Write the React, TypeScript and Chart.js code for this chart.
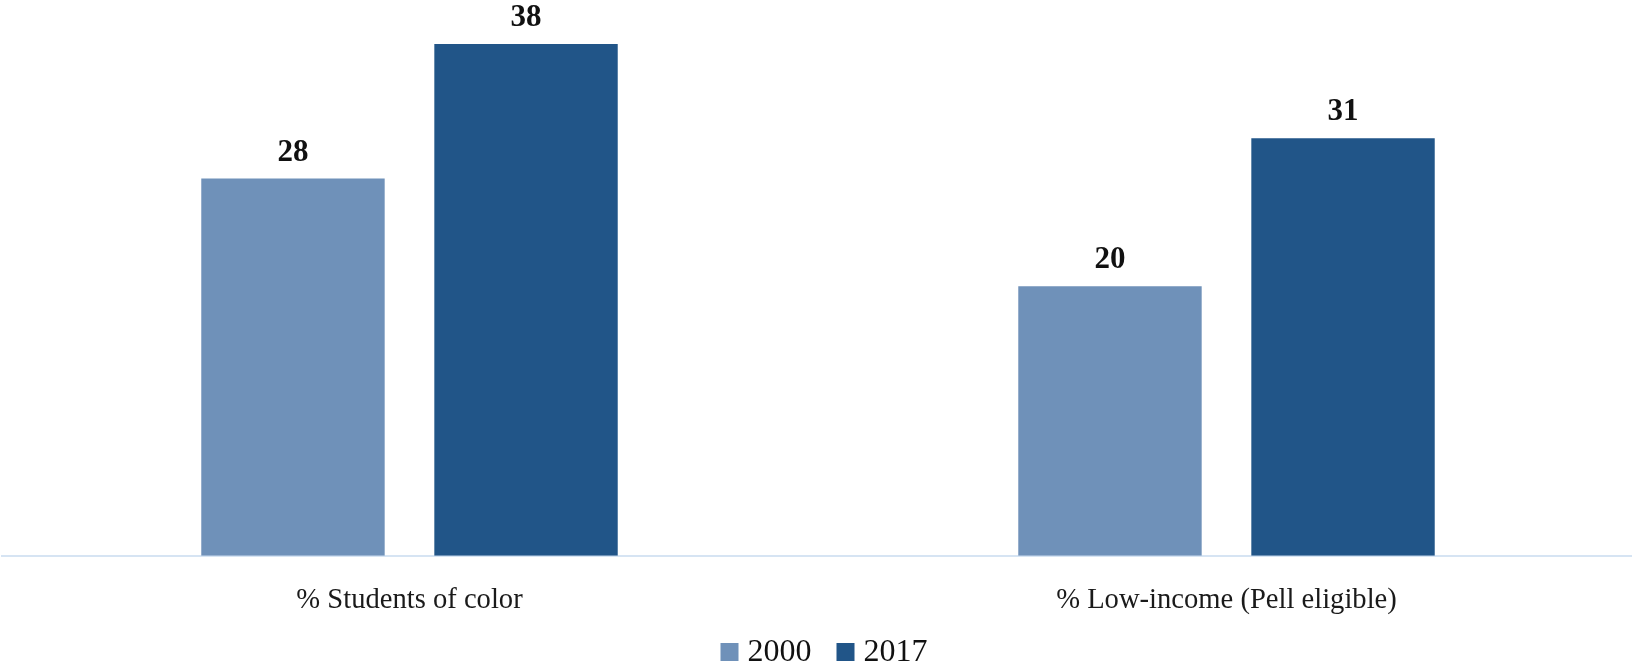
import React, { useEffect, useRef } from "react";
import { Chart, registerables } from "chart.js";

Chart.register(...registerables);

const categories = ["% Students of color", "% Low-income (Pell eligible)"];
const seriesNames = ["2000", "2017"];
const values2000 = [28, 20];
const values2017 = [38, 31];
const colors = ["#6f91b9", "#215588"];

const FONT = "'Liberation Serif', 'Times New Roman', serif";

const dataLabelPlugin = {
  id: "dataLabels",
  afterDatasetsDraw(chart: any) {
    const ctx = chart.ctx;
    ctx.save();
    ctx.font = `bold 31px ${FONT}`;
    ctx.fillStyle = "#111111";
    ctx.textAlign = "center";
    ctx.textBaseline = "alphabetic";
    chart.data.datasets.forEach((ds: any, di: number) => {
      const meta = chart.getDatasetMeta(di);
      meta.data.forEach((el: any, i: number) => {
        ctx.fillText(String(ds.data[i]), el.x, el.y - 18);
      });
    });
    ctx.restore();
  },
};

const legendPlugin = {
  id: "customLegend",
  afterDraw(chart: any) {
    const ctx = chart.ctx;
    const box = 18;
    const gapText = 9;
    const gapItem = 25;
    ctx.save();
    ctx.font = `32px ${FONT}`;
    ctx.textBaseline = "middle";
    ctx.textAlign = "left";
    const items = chart.data.datasets.map((ds: any) => ({
      label: ds.label,
      color: ds.backgroundColor,
      w: ctx.measureText(ds.label).width,
    }));
    const total = items.reduce((s: number, it: any) => s + box + gapText + it.w, 0) + gapItem * (items.length - 1);
    let x = chart.width / 2 + 6 - total / 2;
    const cy = 652;
    items.forEach((it: any) => {
      ctx.fillStyle = it.color;
      ctx.fillRect(x, cy - box / 2, box, box);
      x += box + gapText;
      ctx.fillStyle = "#111111";
      ctx.fillText(it.label, x, cy + 1);
      x += it.w + gapItem;
    });
    ctx.restore();
  },
};

export default function App() {
  const ref = useRef<HTMLCanvasElement>(null);
  useEffect(() => {
    document.body.style.overflow = "hidden";
    const chart = new Chart(ref.current!, {
      type: "bar",
      data: {
        labels: categories,
        datasets: [
          {
            label: seriesNames[0],
            data: values2000,
            backgroundColor: colors[0],
            categoryPercentage: 0.5705,
            barPercentage: 0.787,
          },
          {
            label: seriesNames[1],
            data: values2017,
            backgroundColor: colors[1],
            categoryPercentage: 0.5705,
            barPercentage: 0.787,
          },
        ],
      },
      options: {
        animation: false,
        responsive: true,
        maintainAspectRatio: false,
        layout: { padding: { top: 17, left: 0, right: 0, bottom: 30 } },
        scales: {
          x: {
            grid: { display: false },
            border: { display: true, color: "#d6e4f3", width: 2 },
            ticks: {
              color: "#1a1a1a",
              font: { family: FONT, size: 28.6 },
              padding: 20,
            },
          },
          y: {
            display: false,
            min: 0,
            max: 40,
          },
        },
        plugins: {
          legend: { display: false },
          tooltip: { enabled: false },
        },
      },
      plugins: [dataLabelPlugin, legendPlugin],
    });
    return () => chart.destroy();
  }, []);
  return (
    <div style={{ position: "fixed", left: 0, top: 0, width: 1632, height: 668, overflow: "hidden", background: "#fff" }}>
      <div style={{ position: "absolute", left: 1, top: 0, width: 1634, height: 668 }}>
        <canvas ref={ref} />
      </div>
    </div>
  );
}
